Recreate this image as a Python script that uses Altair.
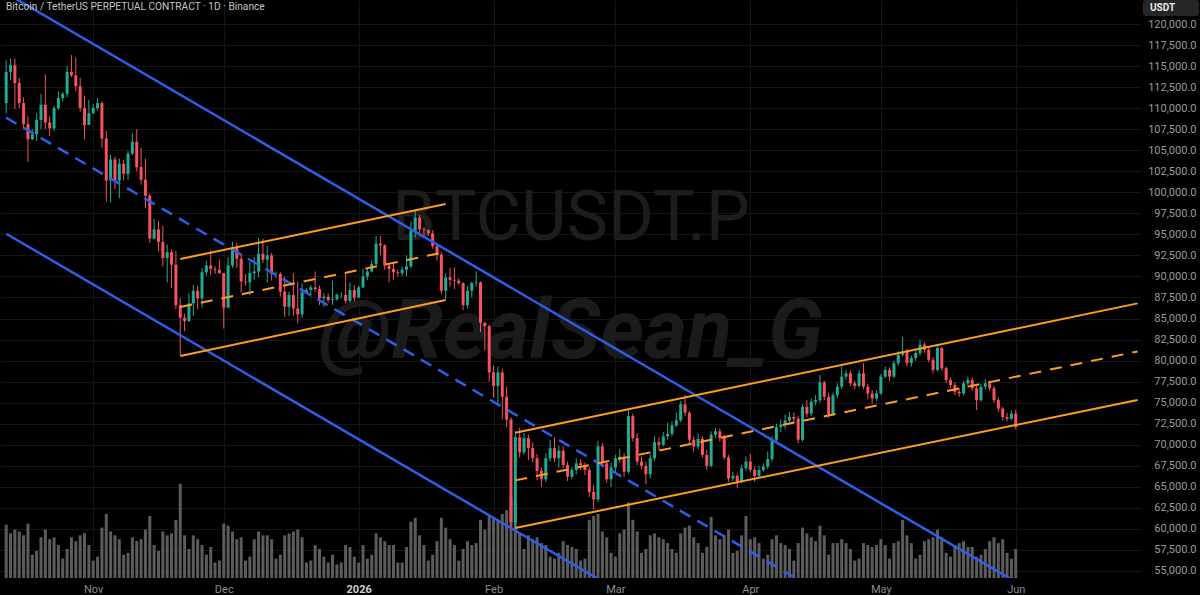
import altair as alt
import pandas as pd

# ---------------- DATA ----------------
START = "2025-10-12"          # first daily candle
FIRST_OPEN_K = 110.6          # open of the first candle (thousand USDT)

CLOSE_K = [
    # Oct 12-31
    114.3, 115.1, 113.0, 110.6, 108.1, 106.3, 106.9, 108.6, 110.4, 108.3,
    107.6, 110.0, 111.2, 111.7, 114.3, 113.9, 112.6, 110.0, 108.0, 109.4,
    # Nov
    110.0, 110.6, 106.4, 101.4, 103.9, 101.4, 103.4, 102.2, 104.6, 106.0,
    103.0, 101.5, 99.6, 94.5, 95.6, 94.1, 92.2, 92.9, 91.4, 86.6,
    85.1, 84.7, 86.8, 88.3, 87.4, 90.5, 91.3, 90.9, 90.8, 90.4,
    # Dec
    86.3, 91.3, 93.5, 92.1, 89.4, 89.3, 90.4, 90.6, 92.7, 92.0,
    92.5, 90.3, 90.3, 88.2, 86.4, 87.8, 86.2, 85.5, 88.1, 88.4,
    88.7, 88.5, 87.4, 87.6, 87.2, 87.3, 87.8, 87.8, 87.1, 88.4, 87.5,
    # Jan
    88.7, 90.0, 90.6, 91.5, 93.9, 93.7, 91.3, 90.9, 90.5, 90.4,
    90.8, 91.2, 95.4, 97.0, 95.6, 95.5, 95.1, 93.6, 92.6, 88.3,
    89.9, 89.6, 89.5, 89.2, 86.6, 88.3, 89.2, 89.3, 84.5, 84.1, 78.6,
    # Feb
    77.0, 78.6, 75.7, 73.0, 60.8, 70.9, 69.1, 70.8, 69.6, 68.4,
    66.9, 65.9, 68.4, 69.6, 68.4, 69.3, 67.6, 66.2, 67.0, 67.8,
    67.6, 67.0, 64.4, 63.5, 69.8, 67.8, 65.9, 67.3,
    # Mar
    68.4, 68.6, 66.8, 73.4, 70.8, 68.0, 67.5, 66.5, 68.4, 70.3,
    70.0, 71.0, 71.3, 72.3, 72.9, 74.8, 73.8, 70.6, 69.8, 70.7,
    68.8, 67.5, 71.2, 71.6, 70.8, 68.5, 66.0, 66.3, 65.6, 67.2, 68.0,
    # Apr
    67.0, 66.3, 67.0, 67.4, 68.3, 70.6, 72.1, 72.4, 72.9, 73.3,
    73.1, 70.6, 74.5, 73.7, 75.1, 75.3, 77.4, 75.7, 73.6, 75.9,
    76.9, 78.1, 78.5, 77.3, 77.0, 78.5, 76.9, 76.1, 75.5, 76.1,
    # May
    78.1, 78.9, 78.1, 79.7, 80.7, 81.1, 79.7, 80.3, 80.9, 81.9,
    81.3, 80.1, 78.9, 81.5, 79.1, 77.7, 77.1, 76.3, 76.1, 77.3,
    77.7, 76.7, 75.3, 76.9, 77.3, 76.7, 75.3, 74.3, 73.3, 73.1, 73.7,
    # Jun 1
    72.1,
]

HIGH_K = [
    115.7, 115.9, 115.9, 113.6, 111.3, 109.0, 107.5, 109.4, 111.7, 114.0,
    109.1, 110.3, 112.0, 111.9, 115.0, 116.3, 116.0, 113.6, 111.5, 111.0,
    110.5, 111.2, 110.8, 107.3, 104.5, 104.2, 104.0, 103.9, 104.9, 107.0,
    107.5, 105.3, 104.0, 99.8, 96.8, 96.6, 96.0, 93.8, 93.2, 93.0,
    87.4, 85.6, 88.0, 89.0, 88.9, 91.0, 91.9, 93.1, 91.2, 92.0,
    90.4, 92.3, 94.1, 94.0, 92.7, 90.3, 91.8, 92.3, 94.6, 94.5,
    93.6, 92.8, 90.6, 90.5, 90.0, 88.2, 90.4, 89.4, 89.2, 88.6,
    89.0, 90.6, 88.9, 88.0, 88.0, 89.5, 88.0, 88.1, 90.3, 89.3, 89.0,
    88.9, 90.9, 90.9, 91.9, 94.8, 94.8, 93.8, 91.5, 91.6, 90.8,
    91.2, 92.5, 96.5, 97.9, 97.3, 95.9, 95.6, 95.5, 93.7, 92.9,
    90.4, 91.0, 91.1, 89.8, 89.3, 88.9, 89.4, 90.6, 89.4, 84.6, 84.3,
    79.4, 79.3, 79.0, 76.9, 73.3, 71.6, 72.0, 71.4, 71.2, 70.3,
    68.9, 67.3, 69.0, 70.6, 70.9, 69.9, 69.8, 68.0, 67.3, 68.4,
    68.3, 67.9, 67.3, 65.2, 70.5, 70.2, 68.0, 67.9,
    68.8, 69.5, 69.0, 74.1, 73.7, 71.4, 68.6, 67.9, 68.9, 71.0,
    70.9, 71.5, 72.6, 72.8, 73.8, 75.2, 75.9, 74.0, 71.0, 71.3,
    71.0, 69.4, 71.6, 72.0, 71.9, 71.2, 68.8, 66.8, 66.6, 67.6, 68.6,
    68.9, 67.4, 67.5, 67.8, 69.2, 71.0, 72.5, 73.0, 73.6, 73.9,
    73.8, 73.4, 74.8, 75.3, 75.5, 75.9, 78.3, 77.6, 76.2, 76.2,
    77.3, 79.3, 78.9, 78.8, 77.6, 78.9, 79.7, 77.2, 76.5, 76.5,
    78.4, 79.3, 79.2, 80.0, 81.1, 82.8, 81.4, 80.6, 81.2, 82.5,
    82.2, 81.6, 80.4, 81.9, 81.6, 79.3, 78.0, 77.4, 76.7, 77.6,
    78.1, 78.0, 77.0, 77.2, 77.8, 77.6, 77.0, 75.6, 74.5, 73.8, 74.1,
    74.2,
]

LOW_K = [
    109.4, 113.3, 109.9, 110.0, 107.5, 103.6, 106.2, 106.1, 107.5, 107.5,
    106.7, 107.3, 109.8, 110.8, 111.3, 113.7, 112.0, 109.6, 106.3, 108.0,
    109.3, 109.7, 105.3, 98.9, 98.8, 100.4, 99.3, 101.4, 101.5, 104.4,
    102.5, 100.9, 98.1, 94.0, 94.4, 93.0, 91.2, 89.3, 88.6, 86.1,
    80.6, 83.5, 84.6, 85.3, 86.1, 86.3, 90.1, 90.2, 90.3, 90.3,
    83.8, 86.2, 91.0, 91.0, 88.1, 88.9, 87.8, 89.6, 89.9, 91.6,
    89.3, 89.5, 89.8, 87.6, 85.2, 85.3, 85.3, 84.4, 85.1, 88.0,
    87.6, 88.2, 86.6, 86.4, 86.9, 86.6, 87.1, 87.4, 86.8, 86.9, 87.0,
    87.4, 88.6, 89.6, 90.5, 91.3, 92.5, 90.8, 89.3, 89.6, 90.0,
    90.1, 90.0, 91.0, 94.6, 95.0, 94.6, 94.8, 93.3, 91.9, 87.9,
    87.3, 88.8, 88.5, 89.0, 86.0, 86.2, 87.5, 88.8, 83.4, 81.2, 77.5,
    75.6, 74.6, 73.0, 72.1, 59.9, 60.2, 68.5, 68.8, 68.2, 67.9,
    65.8, 65.0, 65.6, 68.0, 67.9, 67.3, 67.2, 65.7, 65.9, 66.5,
    67.0, 66.4, 63.8, 62.3, 63.2, 67.3, 65.5, 65.0,
    66.6, 67.9, 66.2, 66.6, 70.4, 67.6, 67.1, 65.3, 66.0, 68.1,
    69.4, 69.8, 70.6, 71.0, 72.1, 72.7, 73.4, 70.2, 69.2, 69.5,
    68.5, 67.0, 67.3, 70.8, 70.4, 68.2, 65.6, 65.7, 64.9, 65.4, 66.9,
    66.7, 65.6, 66.0, 66.8, 67.1, 68.0, 70.2, 71.5, 71.9, 72.4,
    72.6, 70.2, 70.4, 73.3, 73.4, 74.7, 75.0, 75.3, 73.2, 73.4,
    75.5, 76.6, 77.7, 77.0, 76.6, 76.8, 76.6, 75.4, 74.9, 75.2,
    75.9, 77.9, 77.6, 77.9, 79.4, 80.5, 79.3, 79.3, 80.0, 80.6,
    80.9, 79.8, 78.5, 78.7, 78.8, 77.3, 76.7, 75.9, 75.7, 75.9,
    77.0, 76.4, 74.1, 75.1, 76.6, 76.4, 75.0, 73.9, 72.9, 72.8, 72.9,
    71.8,
]

VOLUME = [
    55, 46, 50, 48, 44, 56, 24, 28, 42, 50, 40, 42, 34, 20, 30, 42, 38, 44, 46, 34,
    18, 22, 52, 66, 48, 44, 40, 24, 26, 42, 38, 40, 50, 64, 34, 28, 48, 44, 46, 60,
    97, 44, 30, 44, 40, 34, 24, 32, 16, 18,
    56, 54, 48, 40, 42, 18, 22, 40, 48, 44, 44, 40, 20, 24, 44, 46, 48, 50, 42, 16,
    18, 34, 30, 22, 16, 24, 14, 16, 34, 32, 22,
    16, 34, 20, 24, 46, 42, 38, 34, 34, 16, 16, 32, 58, 62, 44, 34, 18, 24, 38, 62,
    52, 40, 34, 18, 30, 38, 34, 36, 60, 50, 64,
    62, 60, 66, 70, 84, 80, 46, 30, 44, 40, 42, 36, 34, 22, 20, 26, 38, 34, 32, 30,
    18, 20, 60, 64, 66, 48, 42, 26,
    22, 46, 50, 78, 60, 48, 26, 30, 44, 46, 42, 40, 36, 30, 26, 46, 52, 54, 42, 36,
    26, 32, 63, 44, 40, 44, 50, 26, 28, 44, 64,
    40, 42, 36, 20, 24, 40, 44, 36, 34, 30, 18, 36, 52, 46, 42, 38, 54, 44, 24, 36,
    36, 40, 36, 30, 18, 20, 36, 34, 32, 34,
    40, 34, 20, 36, 38, 60, 44, 36, 20, 24, 38, 40, 42, 50, 42, 26, 22, 34, 36, 38,
    32, 32, 22, 24, 30, 38, 42, 36, 40, 26, 20,
    30,
]

PRICE_TICKS = list(range(55000, 120001, 2500))
MONTH_TICKS = [(2025, 11), (2025, 12), (2026, 1), (2026, 2), (2026, 3),
               (2026, 4), (2026, 5), (2026, 6)]

# trend-line anchors (date, thousand USDT)
LINE_ID = ["bu", "bu", "bm", "bm", "bl", "bl",
           "o1u", "o1u", "o1m", "o1m", "o1l", "o1l",
           "o2u", "o2u", "o2m", "o2m", "o2l", "o2l"]
LINE_DATE = ["2025-10-12", "2026-06-01", "2025-10-12", "2026-04-12", "2025-10-12", "2026-02-25",
             "2025-11-21", "2026-01-21", "2025-11-21", "2026-01-21", "2025-11-21", "2026-01-21",
             "2026-02-06", "2026-06-29", "2026-02-06", "2026-06-29", "2026-02-06", "2026-06-29"]
LINE_PRICE_K = [123.66, 53.70, 108.87, 53.99, 95.08, 54.07,
                92.08, 98.61, 86.37, 92.91, 80.54, 87.20,
                71.43, 86.80, 65.77, 81.09, 60.11, 75.33]

HEADER = "Bitcoin / TetherUS PERPETUAL CONTRACT · 1D · Binance"
WM1 = "BTCUSDT.P"
WM2 = "@RealSean_G"
CURRENCY = "USDT"

# ---------------- STYLE ----------------
UP = "#22ab94"
DOWN = "#f7525f"
BLUE = "#2f5ee8"
ORANGE = "#ff9d1c"
GRID = "#161616"
VOL_COLOR = "#5c5c5c"
FONT = "Roboto"

# ---------------- BUILD ----------------
n = len(CLOSE_K)
dates = pd.date_range(START, periods=n, freq="D").strftime("%Y-%m-%d")
opens = [FIRST_OPEN_K] + CLOSE_K[:-1]
rows = []
for i in range(n):
    o, c = opens[i], CLOSE_K[i]
    h = max(HIGH_K[i], o, c)
    lo = min(LOW_K[i], o, c)
    rows.append(dict(date=dates[i], open=o * 1000, close=c * 1000,
                     high=h * 1000, low=lo * 1000,
                     dir="up" if c >= o else "down", volume=VOLUME[i]))
candles = pd.DataFrame(rows)

lines = pd.DataFrame({"id": LINE_ID, "date": LINE_DATE,
                      "price": [p * 1000 for p in LINE_PRICE_K]})

x_scale = alt.Scale(type="utc", domain=[
    alt.DateTime(year=2025, month=10, date=11, hours=17, minutes=30, utc=True),
    alt.DateTime(year=2026, month=6, date=28, hours=9, minutes=36, utc=True)])
x_axis = alt.Axis(
    values=[alt.DateTime(year=y, month=m, date=1, utc=True) for y, m in MONTH_TICKS],
    labelExpr="utcmonth(datum.value) == 0 ? utcFormat(datum.value, '%Y') : utcFormat(datum.value, '%b')",
    grid=True, gridColor=GRID, gridWidth=1, domain=False, ticks=False, tickSize=0,
    labelPadding=5, labelFont=FONT, labelFontSize=11,
    labelColor={"condition": {"test": "utcmonth(datum.value) == 0", "value": "#d0d0d0"}, "value": "#8c8c8c"},
    labelFontWeight={"condition": {"test": "utcmonth(datum.value) == 0", "value": "bold"}, "value": "normal"},
    title=None)
X = alt.X("date:T", scale=x_scale, axis=x_axis)

y_scale = alt.Scale(domain=[54168, 122852], nice=False, zero=False)
y_axis = alt.Axis(values=PRICE_TICKS, orient="right", format=",.1f", grid=True,
                  gridColor=GRID, gridWidth=1, domain=False, ticks=False, tickSize=0,
                  labelAlign="right", labelPadding=56, labelFont=FONT, labelFontSize=11,
                  labelColor="#9a9a9a", title=None)

color = alt.Color("dir:N", scale=alt.Scale(domain=["up", "down"], range=[UP, DOWN]), legend=None)

base = alt.Chart(candles)
wicks = base.mark_rule(strokeWidth=1).encode(
    x=X, y=alt.Y("low:Q", scale=y_scale, axis=y_axis), y2="high:Q", color=color)
bodies = base.mark_bar(width=3).encode(
    x=X, y=alt.Y("open:Q", scale=y_scale, axis=y_axis), y2="close:Q", color=color)

def line_layer(ids, col, dash, sw):
    d = lines[lines["id"].isin(ids)]
    kw = dict(color=col, strokeWidth=sw, clip=True)
    if dash:
        kw["strokeDash"] = dash
    return alt.Chart(d).mark_line(**kw).encode(
        x=X, y=alt.Y("price:Q", scale=y_scale, axis=y_axis), detail="id:N")

blue_solid = line_layer(["bu", "bl"], BLUE, None, 2.5)
blue_dash = line_layer(["bm"], BLUE, [12, 8], 2.5)
orange_solid = line_layer(["o1u", "o1l", "o2u", "o2l"], ORANGE, None, 2)
orange_dash = line_layer(["o1m", "o2m"], ORANGE, [12, 9], 2)

price_group = alt.layer(wicks, bodies, blue_solid, blue_dash, orange_solid, orange_dash)

volume = base.mark_bar(width=3, color=VOL_COLOR).encode(
    x=X, y=alt.Y("volume:Q", scale=alt.Scale(domain=[0, 596], nice=False), axis=None))

one = pd.DataFrame({"t": [0]})
wm1 = alt.Chart(pd.DataFrame({"t": [WM1]})).mark_text(
    font=FONT, fontSize=70, color="#1d1d1d", align="center", baseline="alphabetic").encode(
    x=alt.value(571), y=alt.value(240), text="t:N")
wm2 = alt.Chart(pd.DataFrame({"t": [WM2]})).mark_text(
    font=FONT, fontSize=83, fontWeight="bold", fontStyle="italic", color="#1b1b1b",
    align="center", baseline="alphabetic").encode(
    x=alt.value(571), y=alt.value(358), text="t:N")
header = alt.Chart(pd.DataFrame({"t": [HEADER]})).mark_text(
    font=FONT, fontSize=10.2, color="#c4c4c4", align="left", baseline="middle").encode(
    x=alt.value(6), y=alt.value(7), text="t:N")
usdt_box = alt.Chart(one).mark_rect(color="#262626", cornerRadius=3).encode(
    x=alt.value(1143), x2=alt.value(1199), y=alt.value(0), y2=alt.value(16))
usdt_text = alt.Chart(pd.DataFrame({"t": [CURRENCY]})).mark_text(
    font=FONT, fontSize=10, fontWeight="bold", color="#e6e6e6", align="left", baseline="middle").encode(
    x=alt.value(1150), y=alt.value(8), text="t:N")

chart = alt.layer(wm1, wm2, volume, price_group, header, usdt_box, usdt_text).resolve_scale(
    y="independent").properties(
    width=1140, height=578,
    padding={"left": 0, "right": 60, "top": 0, "bottom": 17},
    autosize=alt.AutoSizeParams(type="none"),
    background="#000000",
).configure_view(strokeWidth=0)

chart.save("out.html", embed_options={"renderer": "svg", "actions": False})
